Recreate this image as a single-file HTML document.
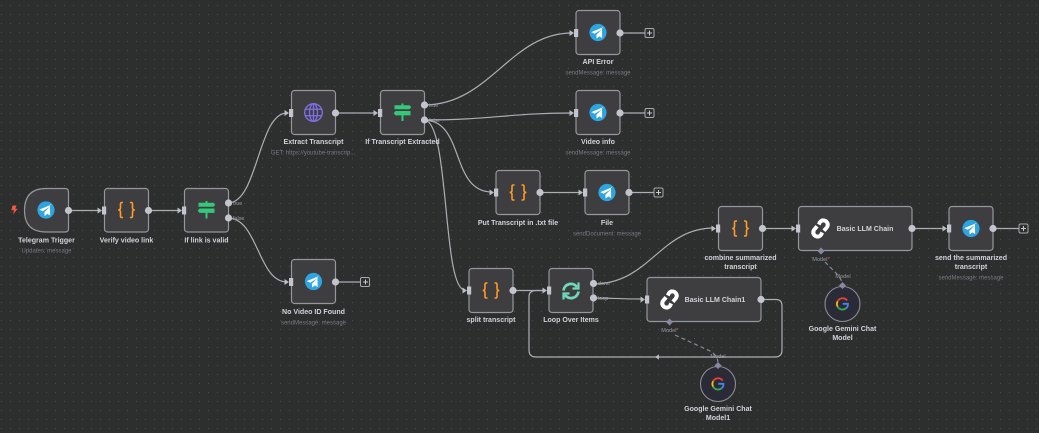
<!DOCTYPE html>
<html><head><meta charset="utf-8"><style>
html,body{margin:0;padding:0;background:#2d2e2e;width:1039px;height:433px;overflow:hidden}
svg{display:block}
text{font-family:"Liberation Sans",sans-serif}
.l{font-size:7.05px;font-weight:700;fill:#d2d2da;text-anchor:middle}
.s{font-size:6px;fill:#7a7a85;text-anchor:middle}
.p{font-size:5.4px;fill:#a0a0a8}
.m{font-size:5.6px;fill:#9a9aa6;text-anchor:middle}
.n{fill:#3e3e40;stroke:#96969c;stroke-width:1.2}
.e{fill:none;stroke:#aeaeb5;stroke-width:1.2}
.d{fill:#c4c4cf}
</style></head><body>
<svg width="1039" height="433" viewBox="0 0 1039 433" xmlns="http://www.w3.org/2000/svg">
<defs>
<pattern id="g" x="1" y="1" width="9" height="9" patternUnits="userSpaceOnUse"><rect x="0" y="4" width="1" height="1" fill="#4c4c4c"/></pattern>
<g id="tg"><circle r="8.6" fill="#2ca5e0"/><path transform="scale(1.3)" d="M-5.2-.3 4.6-4.3 3-4.1 3.2 4.2 1 3-1 4.6-1.3 1.8 2.8-2.4-2.5 1Z" fill="#fff"/></g>
<g id="br" fill="none" stroke="#ff9b26" stroke-width="1.6"><path d="M-3.500-7.500H-4.800Q-6-7.500-6-6V-2Q-6-.3-8.200 0Q-6 .3-6 2V6Q-6 7.500-4.800 7.500H-3.500"/><path d="M3.500-7.500H4.800Q6-7.500 6-6V-2Q6-.3 8.200 0Q6 .3 6 2V6Q6 7.500 4.800 7.500H3.500"/></g>
<g id="sw" fill="#35c77a"><path d="M-8-7.200H7L8.800-5.200 7-3.200H-8Z"/><path d="M8-1.500H-7L-8.800.7-7 2.900H8Z"/><rect x="-1" y="-9" width="2" height="2"/><rect x="-1" y="2.500" width="2" height="6"/></g>
<g id="ln" fill="none" stroke="#fff" stroke-width="3.400" transform="scale(1.150)"><path d="M-1.500-3.500-.5-5.500Q1.500-8 4.500-6.500 7.500-4 5.500-1L3 2"/><path d="M1.500 3.500.5 5.500Q-1.500 8-4.500 6.500-7.500 4-5.500 1L-3-2"/></g>
<g id="gg" fill="none" stroke-width="2" transform="scale(.9)"><path d="M5.200-3.800A6.200 6.200 0 0 0-5.400-3" stroke="#ea4335"/><path d="M-5.400-3A6.200 6.200 0 0 0-5.400 3" stroke="#fbbc05"/><path d="M-5.400 3A6.200 6.200 0 0 0 4.200 4.500" stroke="#34a853"/><path d="M4.200 4.500Q6.300 2.800 6-.2H.3" stroke="#4285f4"/></g>
</defs>
<rect width="1039" height="433" fill="#2d2e2e"/>
<rect width="1039" height="433" fill="url(#g)"/>

<!-- edges -->
<g class="e">
<path d="M68 210.500H100"/><path d="M148 210.500H180"/>
<path d="M228 203C258 203 258 113 287 113"/>
<path d="M228 218C258 218 258 282 287 282"/>
<path d="M335 113H376"/>
<path d="M424 105C490 105 510 33 572 33"/>
<path d="M424 120C490 120 510 113 572 113"/>
<path d="M424 120C465 120 450 192 492 192"/>
<path d="M424 120C450 120 442 290 465 290"/>
<path d="M540 192.500H581"/>
<path d="M513 290.500H545"/>
<path d="M593 284C650 284 660 228 714 228"/>
<path d="M593 298C610 298 620 299 643 299"/>
<path d="M762 228.500H794"/><path d="M912 228.500H945"/>
<path d="M620 33H645"/><path d="M620 113H645"/><path d="M629 192.500H654"/><path d="M335 282H360"/><path d="M993 228.500H1019"/>
<path d="M761 299.500H776Q782 299.500 782 306V350Q782 357 775 357H536Q529 357 529 350V297Q529 290.500 536 290.500H545"/>
<path d="M675 335L710 351Q717 355 718 362" stroke="#8a8a98" stroke-dasharray="4 3"/>
<path d="M825 262L836 273Q841 278 842.500 284" stroke="#8a8a98" stroke-dasharray="4 3"/>
</g>
<path d="M655 357l4-2.600v5.200zM97.500 207.500l4.500 3-4.500 3zM177.500 207.500l4.500 3-4.500 3zM284.500 110l4.500 3-4.500 3zM284.500 279l4.500 3-4.500 3zM373.500 110l4.500 3-4.500 3zM569.500 30l4.500 3-4.500 3zM569.500 110l4.500 3-4.500 3zM489.500 189.500l4.500 3-4.500 3zM578.500 189.500l4.500 3-4.500 3zM462.500 287.500l4.500 3-4.500 3zM542.500 287.500l4.500 3-4.500 3zM640.500 296.500l4.500 3-4.500 3zM711.500 225.500l4.500 3-4.500 3zM791.500 225.500l4.500 3-4.500 3zM942.500 225.500l4.500 3-4.500 3z" fill="#bcbcc4"/>

<!-- nodes -->
<path class="n" d="M46 188.500H65Q68.500 188.500 68.500 192V228.500Q68.500 232 65 232H46Q24.500 232 24.500 210.500Q24.500 188.500 46 188.500Z"/>
<rect class="n" x="104.500" y="188.500" width="44" height="43.500" rx="3"/>
<rect class="n" x="184.500" y="188.500" width="44" height="43.500" rx="3"/>
<rect class="n" x="291.500" y="90.500" width="44" height="44" rx="3"/>
<rect class="n" x="380.500" y="90.500" width="44" height="44" rx="3"/>
<rect class="n" x="576" y="10.500" width="44" height="44" rx="3"/>
<rect class="n" x="576" y="90.500" width="44" height="44" rx="3"/>
<rect class="n" x="496" y="170.500" width="44" height="44" rx="3"/>
<rect class="n" x="585" y="170.500" width="44" height="44" rx="3"/>
<rect class="n" x="291.500" y="259.500" width="44" height="44" rx="3"/>
<rect class="n" x="469" y="268.500" width="44" height="44" rx="3"/>
<rect class="n" x="549" y="268.500" width="44" height="44" rx="3"/>
<rect class="n" x="647" y="277.500" width="114" height="44" rx="3"/>
<rect class="n" x="718.500" y="206.500" width="44" height="44" rx="3"/>
<rect class="n" x="798.500" y="206.500" width="113.500" height="44" rx="3"/>
<rect class="n" x="949" y="206.500" width="44" height="44" rx="3"/>
<circle cx="718" cy="384" r="17.500" fill="#2b2b38" stroke="#8c8c94" stroke-width="1.100"/>
<circle cx="842.500" cy="304" r="17.500" fill="#2b2b38" stroke="#8c8c94" stroke-width="1.100"/>

<!-- icons -->
<path d="M12.500 205.500h4l-1.200 3.300h2.400l-4.700 5.700 1-4.300h-2.700z" fill="#f0564a"/>
<use href="#tg" x="46" y="210"/>
<use href="#br" x="126.500" y="210"/>
<use href="#sw" x="206.500" y="210"/>
<g fill="none" stroke="#7b6fe0" stroke-width="1.400" transform="translate(313.500 112.500)"><circle r="8.800"/><ellipse rx="4" ry="8.800"/><path d="M-8-3.200H8M-8 3.200H8M0-8.800V8.800"/></g>
<use href="#sw" x="402.500" y="112.500"/>
<use href="#tg" x="598" y="32.500"/>
<use href="#tg" x="598" y="112.500"/>
<use href="#br" x="518" y="192.500"/>
<use href="#tg" x="607" y="192.500"/>
<use href="#tg" x="313.500" y="281.500"/>
<use href="#br" x="491" y="290.500"/>
<g fill="none" stroke="#6fd8bd" stroke-width="2.800" transform="translate(571 291)"><path d="M-7.500-.5A7.500 7.500 0 0 1 6-4"/><path d="M7.500.5A7.500 7.500 0 0 1-6 4"/><path d="M7.500-8.500V-2.500H1.500" stroke-width="2.200"/><path d="M-7.500 8.500V2.500H-1.500" stroke-width="2.200"/></g>
<use href="#ln" x="669.500" y="299.500"/>
<use href="#br" x="740.500" y="228.500"/>
<use href="#ln" x="820.500" y="228.500"/>
<use href="#tg" x="971" y="228.500"/>
<use href="#gg" x="718" y="384"/>
<use href="#gg" x="842.500" y="304"/>

<!-- input ports -->
<g fill="#c4c4cf">
<rect x="102" y="206.500" width="4.200" height="8"/><rect x="182" y="206.500" width="4.200" height="8"/><rect x="289" y="109" width="4.200" height="8"/><rect x="378" y="109" width="4.200" height="8"/>
<rect x="574" y="29" width="4.200" height="8"/><rect x="574" y="109" width="4.200" height="8"/><rect x="494" y="188.500" width="4.200" height="8"/><rect x="583" y="188.500" width="4.200" height="8"/>
<rect x="289" y="278" width="4.200" height="8"/><rect x="467" y="286.500" width="4.200" height="8"/><rect x="547" y="286.500" width="4.200" height="8"/><rect x="645" y="295.500" width="4.200" height="8"/>
<rect x="716" y="224.500" width="4.200" height="8"/><rect x="796" y="224.500" width="4.200" height="8"/><rect x="947" y="224.500" width="4.200" height="8"/>
</g>
<!-- output ports -->
<g class="d">
<circle cx="68.500" cy="210.500" r="3.600"/><circle cx="148.500" cy="210.500" r="3.600"/><circle cx="228.500" cy="203" r="3.600"/><circle cx="228.500" cy="218" r="3.600"/>
<circle cx="335.500" cy="113" r="3.600"/><circle cx="424.500" cy="105" r="3.600"/><circle cx="424.500" cy="120" r="3.600"/>
<circle cx="620" cy="33" r="3.600"/><circle cx="620" cy="113" r="3.600"/><circle cx="540" cy="192.500" r="3.600"/><circle cx="629" cy="192.500" r="3.600"/>
<circle cx="335.500" cy="282" r="3.600"/><circle cx="513" cy="290.500" r="3.600"/><circle cx="593.500" cy="283.500" r="3.600"/><circle cx="593.500" cy="298" r="3.600"/>
<circle cx="761" cy="299.500" r="3.600"/><circle cx="762.500" cy="228.500" r="3.600"/><circle cx="912" cy="228.500" r="3.600"/><circle cx="993" cy="228.500" r="3.600"/>
</g>
<!-- plus boxes -->
<g fill="#2d2e2e" stroke="#a9a9b0" stroke-width="1">
<rect x="645" y="28.500" width="9" height="9" rx="1.500"/><rect x="645" y="108.500" width="9" height="9" rx="1.500"/><rect x="654" y="188" width="9" height="9" rx="1.500"/><rect x="360.500" y="277.500" width="9" height="9" rx="1.500"/><rect x="1019" y="224" width="9" height="9" rx="1.500"/>
</g>
<path d="M647 33h5M649.500 30.500v5M647 113h5M649.500 110.500v5M656 192.500h5M658.500 190v5M363 282h5M365.500 279.500v5M1021 228.500h5M1023.500 226v5" stroke="#c9c9d0" stroke-width="1"/>
<!-- diamonds -->
<g fill="#8787a0">
<path d="M669.500 318.500l3.500 3.500-3.500 3.500-3.500-3.500zM718 362l3.500 3.500-3.500 3.500-3.500-3.500zM821 247.500l3.500 3.500-3.500 3.500-3.500-3.500zM842.500 282l3.500 3.500-3.500 3.500-3.500-3.500z"/>
</g>

<!-- port labels -->
<text class="p" x="233" y="205">true</text><text class="p" x="233" y="220">false</text>
<text class="p" x="429" y="107">true</text><text class="p" x="429" y="122">false</text>
<text class="p" x="598" y="285">done</text><text class="p" x="598" y="300">loop</text>
<text class="m" x="670" y="332">Model<tspan fill="#e05050">*</tspan></text><text class="m" x="718" y="358">Model</text>
<text class="m" x="821" y="261">Model<tspan fill="#e05050">*</tspan></text><text class="m" x="843" y="278">Model</text>

<!-- labels -->
<text class="l" x="46.500" y="242.500">Telegram Trigger</text><text class="s" x="46.500" y="252.500">Updates: message</text>
<text class="l" x="126.500" y="242.500">Verify video link</text>
<text class="l" x="206.500" y="242.500">If link is valid</text>
<text class="l" x="313.500" y="144">Extract Transcript</text><text class="s" x="313" y="154.500">GET: https://youtube-transcrip...</text>
<text class="l" x="402.500" y="144">If Transcript Extracted</text>
<text class="l" x="598" y="64">API Error</text><text class="s" x="598" y="74.500">sendMessage: message</text>
<text class="l" x="598" y="144">Video info</text><text class="s" x="598" y="154.500">sendMessage: message</text>
<text class="l" x="518" y="225">Put Transcript in .txt file</text>
<text class="l" x="607" y="225">File</text><text class="s" x="607" y="235.500">sendDocument: message</text>
<text class="l" x="313.500" y="314">No Video ID Found</text><text class="s" x="313.500" y="324.500">sendMessage: message</text>
<text class="l" x="491" y="322">split transcript</text>
<text class="l" x="571" y="322">Loop Over Items</text>
<text class="l" x="718" y="411">Google Gemini Chat</text><text class="l" x="718" y="420">Model1</text>
<text class="l" x="842.500" y="331">Google Gemini Chat</text><text class="l" x="842.500" y="340">Model</text>
<text class="l" x="740.500" y="260">combine summarized</text><text class="l" x="740.500" y="269">transcript</text>
<text class="l" x="971" y="260">send the summarized</text><text class="l" x="971" y="269">transcript</text><text class="s" x="971" y="279.500">sendMessage: message</text>
<text class="l" x="715" y="302">Basic LLM Chain1</text>
<text class="l" x="865" y="231">Basic LLM Chain</text>
</svg>
</body></html>
